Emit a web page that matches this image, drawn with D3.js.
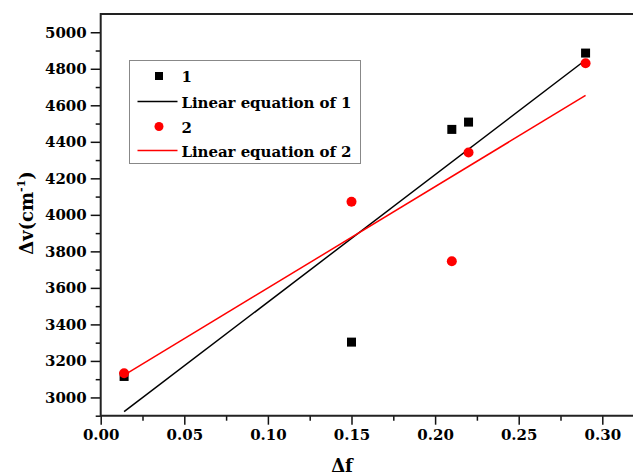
<!DOCTYPE html>
<html>
<head>
<meta charset="utf-8">
<script src="https://cdn.jsdelivr.net/npm/d3@7"></script>
<style>
  body { margin: 0; background: #fff; }
</style>
</head>
<body>
<div id="chart"></div>
<script>
// data
var deltaF = [0.014, 0.15, 0.21, 0.22, 0.29];
var series1 = [3115, 3303, 4468, 4508, 4886];
var series2 = [3132, 4072, 3746, 4341, 4830];
// fitted lines (end points)
var fit1X = [0.014, 0.29];
var fit1Y = [2922, 4848];
var fit2X = [0.014, 0.29];
var fit2Y = [3122, 4654];

var xMajor = [0, 0.05, 0.1, 0.15, 0.2, 0.25, 0.3];
var yMajor = [3000, 3200, 3400, 3600, 3800, 4000, 4200, 4400, 4600, 4800, 5000];

var legendLabels = ["1", "Linear equation of 1", "2", "Linear equation of 2"];

var width = 633, height = 475;
var margin = { top: 14, left: 100.7, bottom: 59.3 };
var serif = "DejaVu Serif, serif";

var svg = d3.select("#chart").append("svg")
  .attr("width", width)
  .attr("height", height)
  .attr("font-family", serif)
  .attr("font-weight", "bold");

var x = d3.scaleLinear().domain([0, 0.32]).range([margin.left, margin.left + 0.32 * 1672]);
var y = d3.scaleLinear().domain([2900, 5100]).range([height - margin.bottom, margin.top]);

// minor ticks
var xMinor = d3.range(0.025, 0.33, 0.05);
var yMinor = d3.range(2900, 5100, 200);

svg.append("g")
  .attr("transform", `translate(0,${y(2900)})`)
  .call(d3.axisBottom(x).tickValues(xMinor).tickSize(5).tickFormat(""))
  .call(g => g.select(".domain").remove())
  .selectAll("line").attr("stroke", "#111").attr("stroke-width", 1.5);

svg.append("g")
  .attr("transform", `translate(${x(0)},0)`)
  .call(d3.axisLeft(y).tickValues(yMinor).tickSize(5).tickFormat(""))
  .call(g => g.select(".domain").remove())
  .selectAll("line").attr("stroke", "#111").attr("stroke-width", 1.5);

// major axes
function styleAxis(g) {
  g.attr("font-family", serif).attr("font-size", 15);
  g.select(".domain").remove();
  g.selectAll("line").attr("stroke", "#111").attr("stroke-width", 1.5);
  g.selectAll("text").attr("fill", "#000").attr("font-weight", "bold");
}

svg.append("g")
  .attr("transform", `translate(0,${y(2900)})`)
  .call(d3.axisBottom(x).tickValues(xMajor).tickSize(9).tickPadding(5).tickFormat(d3.format(".2f")))
  .call(styleAxis);

svg.append("g")
  .attr("transform", `translate(${x(0)},0)`)
  .call(d3.axisLeft(y).tickValues(yMajor).tickSize(10).tickPadding(4).tickFormat(d3.format("d")))
  .call(styleAxis);

// frame lines (left, bottom, top)
svg.append("path")
  .attr("d", `M${width + 5},${y(5100)}H${x(0)}V${y(2900)}H${width + 5}`)
  .attr("fill", "none")
  .attr("stroke", "#222")
  .attr("stroke-width", 2);

// axis titles
svg.append("text")
  .attr("x", 342)
  .attr("y", 472)
  .attr("text-anchor", "middle")
  .attr("font-size", 18)
  .text("\u0394f");

var yTitle = svg.append("text")
  .attr("transform", "translate(33,213) rotate(-90)")
  .attr("text-anchor", "middle")
  .attr("font-size", 18);
yTitle.append("tspan").text("\u0394v(cm");
yTitle.append("tspan").attr("dy", -8).attr("font-size", 11).text("-1");
yTitle.append("tspan").attr("dy", 8).text(")");

// fitted lines
var line = d3.line().x(d => x(d[0])).y(d => y(d[1]));
svg.append("path")
  .datum(d3.zip(fit1X, fit1Y))
  .attr("d", line)
  .attr("fill", "none")
  .attr("stroke", "#000")
  .attr("stroke-width", 1.5);
svg.append("path")
  .datum(d3.zip(fit2X, fit2Y))
  .attr("d", line)
  .attr("fill", "none")
  .attr("stroke", "#ff0000")
  .attr("stroke-width", 1.5);

// series 1: squares
svg.append("g").selectAll("rect")
  .data(d3.zip(deltaF, series1))
  .join("rect")
  .attr("x", d => x(d[0]) - 4.5)
  .attr("y", d => y(d[1]) - 4.5)
  .attr("width", 9)
  .attr("height", 9)
  .attr("fill", "#000");

// series 2: circles
svg.append("g").selectAll("circle")
  .data(d3.zip(deltaF, series2))
  .join("circle")
  .attr("cx", d => x(d[0]))
  .attr("cy", d => y(d[1]))
  .attr("r", 5)
  .attr("fill", "#ff0000");

// legend
var legend = svg.append("g").attr("transform", "translate(129.5,60.5)");
legend.append("rect")
  .attr("width", 231)
  .attr("height", 103)
  .attr("fill", "#fff")
  .attr("stroke", "#888")
  .attr("stroke-width", 1);

var rowY = [15.5, 41, 66, 90];
legendLabels.forEach(function (label, i) {
  var g = legend.append("g").attr("transform", `translate(0,${rowY[i]})`);
  if (i === 0) {
    g.append("rect").attr("x", 25.5).attr("y", -4).attr("width", 8).attr("height", 8).attr("fill", "#000");
  } else if (i === 2) {
    g.append("circle").attr("cx", 29.5).attr("cy", 0).attr("r", 4.5).attr("fill", "#ff0000");
  } else {
    g.append("line").attr("x1", 8).attr("x2", 48).attr("y1", 0).attr("y2", 0)
      .attr("stroke", i === 1 ? "#000" : "#ff0000").attr("stroke-width", 1.5);
  }
  g.append("text")
    .attr("x", 52)
    .attr("y", 6)
    .attr("font-size", 15)
    .attr("textLength", label.length > 2 ? 170 : null)
    .text(label);
});
</script>
</body>
</html>
